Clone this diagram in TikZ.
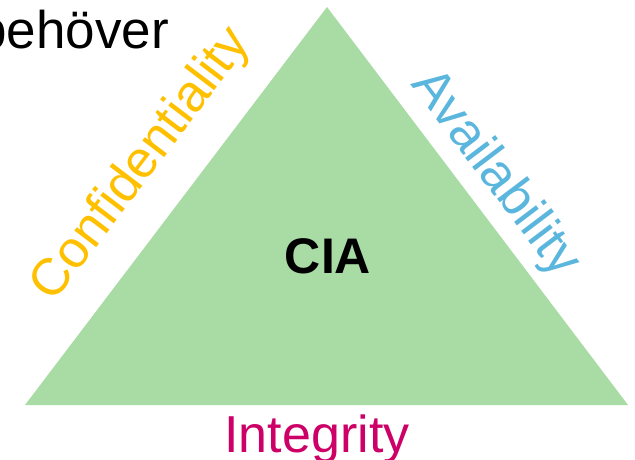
\documentclass[tikz,border=0pt]{standalone}
\usepackage{fontspec}
\setmainfont{Liberation Sans}
\definecolor{triGreen}{RGB}{169,219,165}
\definecolor{confOrange}{RGB}{255,192,0}
\definecolor{availBlue}{RGB}{91,182,222}
\definecolor{integMagenta}{RGB}{204,0,102}
\tikzset{
  lbl/.style={inner sep=0pt, outer sep=0pt, font=\fontsize{52}{60}\selectfont},
}
\begin{document}
\begin{tikzpicture}[x=1pt,y=1pt]
\path[use as bounding box, clip] (0,0) rectangle (635,-459);
\coordinate (apex) at (327,-7);
\coordinate (bl) at (25,-405);
\coordinate (br) at (628,-405);
\fill[triGreen] (apex) -- (br) -- (bl) -- cycle;
\node[lbl, anchor=base east, font=\fontsize{53}{60}\selectfont] (beh) at (169,-48.5) {behöver};
\node[lbl, text=confOrange, rotate=52.8] (conf) at (142,-165) {Confidentiality};
\node[lbl, text=availBlue, rotate=-52.9] (avail) at (495,-174) {Availability};
\node[lbl, text=integMagenta, anchor=base] (integ) at (317,-452) {Integrity};
\node[lbl, anchor=base, font=\bfseries\fontsize{50}{60}\selectfont] (cia) at (328,-273) {CIA};
\end{tikzpicture}
\end{document}
